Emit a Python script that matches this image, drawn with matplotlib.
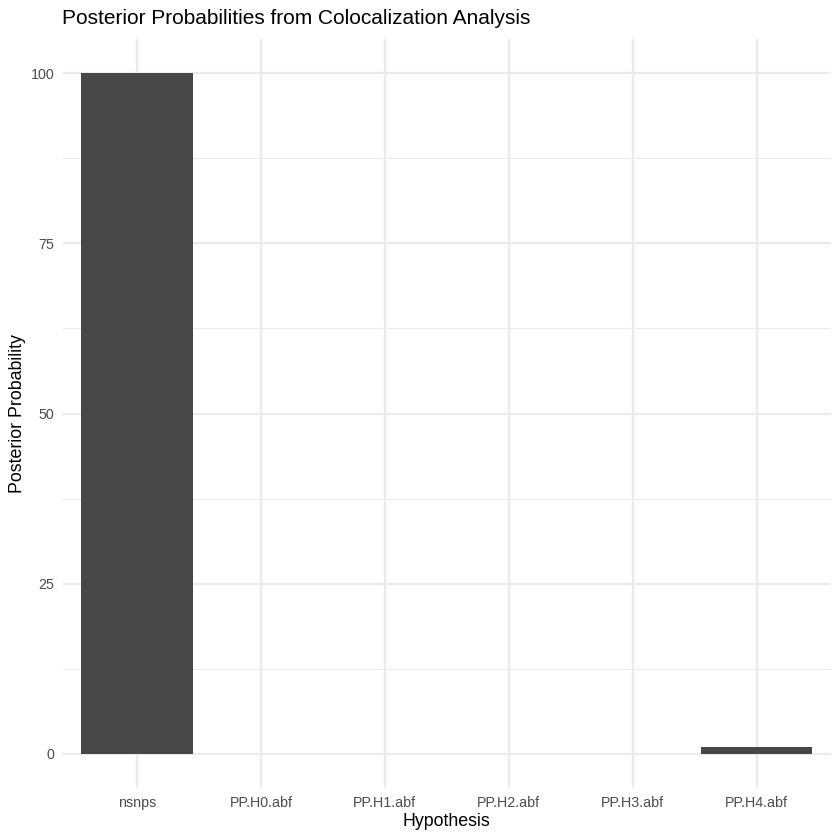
import numpy as np
import matplotlib
matplotlib.use("Agg")
import matplotlib.pyplot as plt

# values
hypotheses = ["nsnps", "PP.H0.abf", "PP.H1.abf", "PP.H2.abf", "PP.H3.abf", "PP.H4.abf"]
probs = [100, 0, 0, 0, 0, 1.0]
y_ticks = [0, 25, 50, 75, 100]
y_minor = [12.5, 37.5, 62.5, 87.5]

plt.rcParams["font.family"] = ["Liberation Sans", "DejaVu Sans"]

fig = plt.figure(figsize=(8.4, 8.4), dpi=100)
ax = fig.add_axes([62.6 / 840, 52 / 840, (831 - 62.6) / 840, (788 - 39) / 840])

x = np.arange(len(hypotheses))
ax.bar(x, probs, width=0.9, color="#474747", zorder=3)

ax.set_xlim(-0.6, len(hypotheses) - 0.4)
ax.set_ylim(-5, 105)
ax.set_xticks(x)
ax.set_xticklabels(hypotheses)
ax.set_yticks(y_ticks)
ax.set_yticks(y_minor, minor=True)

ax.grid(which="major", color="#EBEBEB", linewidth=1.6, zorder=0)
ax.grid(which="minor", axis="y", color="#EBEBEB", linewidth=0.8, zorder=0)
for s in ax.spines.values():
    s.set_visible(False)
ax.tick_params(which="both", length=0, labelsize=10.3, labelcolor="#4D4D4D", pad=6)

ax.set_xlabel("Hypothesis", fontsize=12.8, labelpad=2)
ax.set_ylabel("Posterior Probability", fontsize=12.8, labelpad=3)
fig.text(62 / 840, 1 - 18 / 840, "Posterior Probabilities from Colocalization Analysis",
         fontsize=15, va="center", ha="left")

fig.savefig("out.png", dpi=100, facecolor="white")
